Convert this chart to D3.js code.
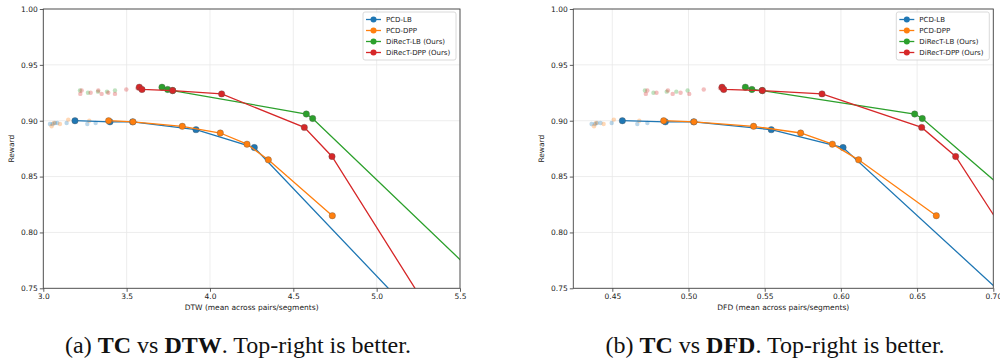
<!DOCTYPE html>
<html>
<head>
<meta charset="utf-8">
<script src="https://cdn.jsdelivr.net/npm/d3@7"></script>
<style>
  body { margin: 0; background: #fff; }
  svg { display: block; }
  .tick text { font-family: "DejaVu Sans", sans-serif; font-size: 7.5px; fill: #222; }
</style>
</head>
<body>
<script>
// Series names and colours (matplotlib tab10)
const seriesNames = ['PCD-LB', 'PCD-DPP', 'DiRecT-LB (Ours)', 'DiRecT-DPP (Ours)'];
const seriesColors = ['#1f77b4', '#ff7f0e', '#2ca02c', '#d62728'];

// Pareto fronts: reward with DTW and DFD for the same points
const pcdLbReward = [0.900, 0.899, 0.899, 0.892, 0.876, 0.700];
const pcdLbDtw    = [3.190, 3.400, 3.536, 3.916, 4.266, 5.389];
const pcdLbDfd    = [0.4566, 0.4848, 0.5034, 0.5543, 0.6014, 0.742];

const pcdDppReward = [0.900, 0.899, 0.895, 0.889, 0.879, 0.865, 0.815];
const pcdDppDtw    = [3.392, 3.538, 3.834, 4.062, 4.222, 4.350, 4.734];
const pcdDppDfd    = [0.4837, 0.5036, 0.5427, 0.5736, 0.5944, 0.6116, 0.6626];

const directLbReward = [0.930, 0.928, 0.927, 0.906, 0.902, 0.700];
const directLbDtw    = [3.712, 3.746, 3.776, 4.578, 4.616, 6.030];
const directLbDfd    = [0.5373, 0.5416, 0.5484, 0.6484, 0.6534, 0.825];

const directDppReward = [0.930, 0.928, 0.927, 0.924, 0.894, 0.868, 0.700];
const directDppDtw    = [3.576, 3.592, 3.776, 4.070, 4.566, 4.732, 5.441];
const directDppDfd    = [0.5220, 0.5231, 0.5484, 0.5876, 0.6530, 0.6753, 0.7551];

// faded (dominated) runs
const fadedPcdLbReward = [0.897, 0.897, 0.898, 0.898, 0.898, 0.897, 0.898];
const fadedPcdLbDtw    = [3.040, 3.056, 3.070, 3.084, 3.140, 3.264, 3.314];
const fadedPcdLbDfd    = [0.4364, 0.4386, 0.4400, 0.4423, 0.4496, 0.4664, 0.4730];

const fadedPcdDppReward = [0.895, 0.898, 0.897, 0.901, 0.900];
const fadedPcdDppDtw    = [3.050, 3.064, 3.100, 3.150, 3.276];
const fadedPcdDppDfd    = [0.4380, 0.4393, 0.4443, 0.4510, 0.4677];

const fadedDirectLbReward = [0.927, 0.925, 0.926, 0.926, 0.927];
const fadedDirectLbDtw    = [3.220, 3.268, 3.328, 3.382, 3.430];
const fadedDirectLbDfd    = [0.4714, 0.4770, 0.4857, 0.4920, 0.4994];

const fadedDirectDppReward = [0.924, 0.927, 0.925, 0.927, 0.924, 0.925, 0.924, 0.928, 0.929];
const fadedDirectDppDtw    = [3.222, 3.230, 3.284, 3.330, 3.350, 3.390, 3.430, 3.498, 3.565];
const fadedDirectDppDfd    = [0.4720, 0.4730, 0.4790, 0.4865, 0.4896, 0.4948, 0.5005, 0.5100, 0.5207];

// Axis ticks
const yTicks = [0.75, 0.80, 0.85, 0.90, 0.95, 1.00];
const dtwTicks = [3.0, 3.5, 4.0, 4.5, 5.0, 5.5];
const dfdTicks = [0.45, 0.50, 0.55, 0.60, 0.65, 0.70];

const svg = d3.select('body').append('svg')
  .attr('width', 1000)
  .attr('height', 360);

svg.append('rect').attr('width', 1000).attr('height', 360).attr('fill', '#fff');

function zipPts(xs, ys) {
  return xs.map((x, i) => ({ x: x, y: ys[i] }));
}

// one subplot
function drawPanel(opt) {
  const { left, right, top, bottom } = opt;
  const x = d3.scaleLinear().domain(opt.xDomain).range([left, right]);
  const y = d3.scaleLinear().domain([0.75, 1.0]).range([bottom, top]);
  const g = svg.append('g');

  const clipId = 'clip-' + opt.id;
  svg.append('clipPath').attr('id', clipId)
    .append('rect')
    .attr('x', left).attr('y', top)
    .attr('width', right - left).attr('height', bottom - top);

  // grid
  g.append('g').selectAll('line.vg')
    .data(opt.xTicks)
    .enter().append('line')
    .attr('x1', d => x(d)).attr('x2', d => x(d))
    .attr('y1', top).attr('y2', bottom)
    .attr('stroke', '#e8e8e8').attr('stroke-width', 0.8);
  g.append('g').selectAll('line.hg')
    .data(yTicks)
    .enter().append('line')
    .attr('x1', left).attr('x2', right)
    .attr('y1', d => y(d)).attr('y2', d => y(d))
    .attr('stroke', '#e8e8e8').attr('stroke-width', 0.8);

  // axes
  const xAxis = g.append('g')
    .attr('transform', `translate(0,${bottom})`)
    .call(d3.axisBottom(x).tickValues(opt.xTicks).tickFormat(opt.xFormat).tickSize(3.5).tickPadding(2));
  const yAxis = g.append('g')
    .attr('transform', `translate(${left},0)`)
    .call(d3.axisLeft(y).tickValues(yTicks).tickFormat(d3.format('.2f')).tickSize(3.5).tickPadding(2));
  [xAxis, yAxis].forEach(a => {
    a.select('.domain').remove();
    a.selectAll('.tick line').attr('stroke', '#333').attr('stroke-width', 0.8);
  });

  // axis labels
  g.append('text')
    .attr('x', (left + right) / 2).attr('y', bottom + 22)
    .attr('text-anchor', 'middle')
    .style('font-family', 'DejaVu Sans, sans-serif').style('font-size', '7.5px').attr('fill', '#222')
    .text(opt.xLabel);
  g.append('text')
    .attr('transform', `translate(${opt.yLabelX},${(top + bottom) / 2}) rotate(-90)`)
    .attr('text-anchor', 'middle')
    .style('font-family', 'DejaVu Sans, sans-serif').style('font-size', '7.5px').attr('fill', '#222')
    .text('Reward');

  const plot = g.append('g').attr('clip-path', `url(#${clipId})`);
  const line = d3.line().x(d => x(d.x)).y(d => y(d.y));

  // faded runs
  opt.faded.forEach((pts, i) => {
    plot.append('g').selectAll('circle')
      .data(pts)
      .enter().append('circle')
      .attr('cx', d => x(d.x)).attr('cy', d => y(d.y))
      .attr('r', 2.2)
      .attr('fill', seriesColors[i])
      .attr('opacity', 0.3);
  });

  // fronts
  opt.fronts.forEach((pts, i) => {
    plot.append('path')
      .datum(pts)
      .attr('d', line)
      .attr('fill', 'none')
      .attr('stroke', seriesColors[i])
      .attr('stroke-width', 1.3);
    plot.append('g').selectAll('circle')
      .data(pts)
      .enter().append('circle')
      .attr('cx', d => x(d.x)).attr('cy', d => y(d.y))
      .attr('r', 3.2)
      .attr('fill', seriesColors[i])
      .attr('stroke', '#555')
      .attr('stroke-opacity', 0.7)
      .attr('stroke-width', 0.5);
  });

  // frame
  g.append('rect')
    .attr('x', left).attr('y', top)
    .attr('width', right - left).attr('height', bottom - top)
    .attr('fill', 'none').attr('stroke', '#444').attr('stroke-width', 0.9);

  // legend
  const lg = g.append('g').attr('transform', `translate(${right - 97},${top + 3})`);
  lg.append('rect')
    .attr('width', 93).attr('height', 48).attr('rx', 2)
    .attr('fill', '#fff').attr('fill-opacity', 0.8)
    .attr('stroke', '#d0d0d0').attr('stroke-width', 0.8);
  seriesNames.forEach((name, i) => {
    const ly = 7.5 + i * 11;
    lg.append('line')
      .attr('x1', 3).attr('x2', 18).attr('y1', ly).attr('y2', ly)
      .attr('stroke', seriesColors[i]).attr('stroke-width', 1.3);
    lg.append('circle')
      .attr('cx', 10.5).attr('cy', ly).attr('r', 3)
      .attr('fill', seriesColors[i]);
    lg.append('text')
      .attr('x', 23).attr('y', ly + 2.5)
      .style('font-family', 'DejaVu Sans, sans-serif').style('font-size', '7px').attr('fill', '#222')
      .text(name);
  });
}

drawPanel({
  id: 'dtw', left: 43.3, right: 460, top: 9, bottom: 288.3,
  xDomain: [3.0, 5.5], xTicks: dtwTicks, xFormat: d3.format('.1f'),
  xLabel: 'DTW (mean across pairs/segments)', yLabelX: 14,
  fronts: [
    zipPts(pcdLbDtw, pcdLbReward), zipPts(pcdDppDtw, pcdDppReward),
    zipPts(directLbDtw, directLbReward), zipPts(directDppDtw, directDppReward)
  ],
  faded: [
    zipPts(fadedPcdLbDtw, fadedPcdLbReward), zipPts(fadedPcdDppDtw, fadedPcdDppReward),
    zipPts(fadedDirectLbDtw, fadedDirectLbReward), zipPts(fadedDirectDppDtw, fadedDirectDppReward)
  ]
});

drawPanel({
  id: 'dfd', left: 573.3, right: 993.3, top: 9, bottom: 288.3,
  xDomain: [0.4244, 0.70], xTicks: dfdTicks, xFormat: d3.format('.2f'),
  xLabel: 'DFD (mean across pairs/segments)', yLabelX: 544,
  fronts: [
    zipPts(pcdLbDfd, pcdLbReward), zipPts(pcdDppDfd, pcdDppReward),
    zipPts(directLbDfd, directLbReward), zipPts(directDppDfd, directDppReward)
  ],
  faded: [
    zipPts(fadedPcdLbDfd, fadedPcdLbReward), zipPts(fadedPcdDppDfd, fadedPcdDppReward),
    zipPts(fadedDirectLbDfd, fadedDirectLbReward), zipPts(fadedDirectDppDfd, fadedDirectDppReward)
  ]
});

// captions
function caption(cx, parts) {
  const t = svg.append('text')
    .attr('x', cx).attr('y', 353)
    .attr('text-anchor', 'middle')
    .style('font-family', '"Liberation Serif", "Times New Roman", serif')
    .style('font-size', '24px')
    .attr('fill', '#111');
  parts.forEach(p => {
    t.append('tspan').attr('font-weight', p[1] ? 'bold' : 'normal').text(p[0]);
  });
}
caption(238, [['(a) ', false], ['TC', true], [' vs ', false], ['DTW', true], ['. Top-right is better.', false]]);
caption(775, [['(b) ', false], ['TC', true], [' vs ', false], ['DFD', true], ['. Top-right is better.', false]]);
</script>
</body>
</html>
